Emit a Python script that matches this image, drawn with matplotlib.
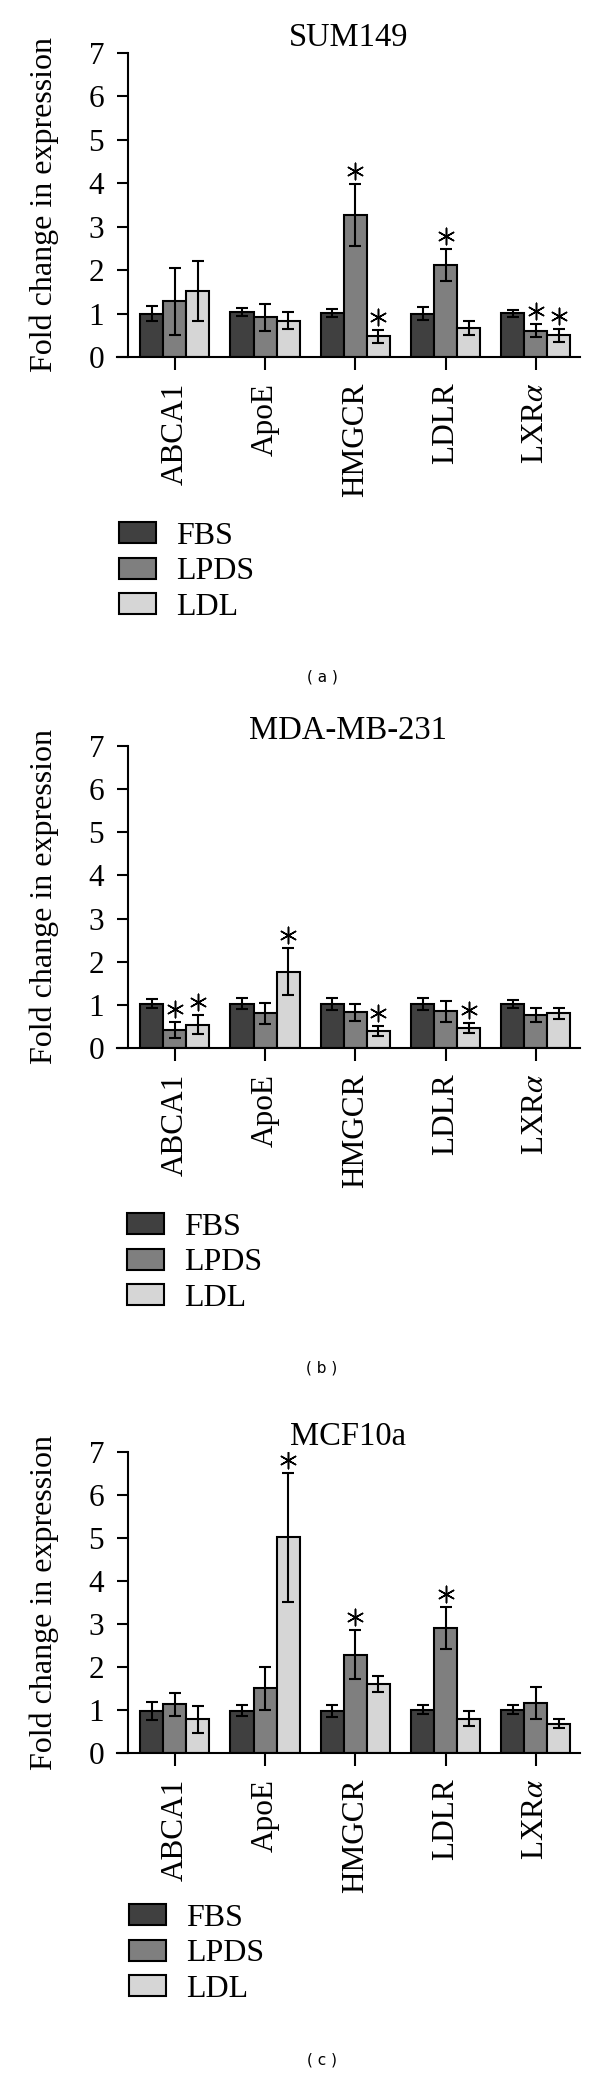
import matplotlib
matplotlib.use('Agg')
import matplotlib.pyplot as plt
import numpy as np

plt.rcParams['font.family'] = ['Liberation Serif', 'DejaVu Serif']
plt.rcParams['mathtext.fontset'] = 'stix'

genes = ['ABCA1', 'ApoE', 'HMGCR', 'LDLR', r'LXR$\alpha$']
conditions = ['FBS', 'LPDS', 'LDL']
bar_colors = ['#404040', '#7f7f7f', '#d6d6d6']

# rows: FBS, LPDS, LDL ; columns: genes
sum149_mean = [[1.00, 1.03, 1.01, 1.00, 1.01],
               [1.28, 0.91, 3.27, 2.11, 0.61],
               [1.51, 0.84, 0.48, 0.67, 0.50]]
sum149_err = [[0.18, 0.09, 0.10, 0.14, 0.08],
              [0.77, 0.30, 0.71, 0.37, 0.14],
              [0.69, 0.20, 0.15, 0.17, 0.15]]
sum149_star = [(1, 2), (2, 2), (1, 3), (1, 4), (2, 4)]

mda_mean = [[1.03, 1.03, 1.03, 1.02, 1.02],
            [0.42, 0.80, 0.83, 0.85, 0.76],
            [0.54, 1.77, 0.40, 0.46, 0.80]]
mda_err = [[0.10, 0.12, 0.14, 0.13, 0.09],
           [0.18, 0.25, 0.20, 0.24, 0.16],
           [0.22, 0.55, 0.12, 0.12, 0.13]]
mda_star = [(1, 0), (2, 0), (2, 1), (2, 2), (2, 3)]

mcf_mean = [[0.98, 0.98, 0.98, 1.01, 1.01],
            [1.13, 1.51, 2.29, 2.91, 1.16],
            [0.78, 5.02, 1.60, 0.80, 0.68]]
mcf_err = [[0.21, 0.13, 0.14, 0.10, 0.10],
           [0.26, 0.50, 0.57, 0.49, 0.37],
           [0.32, 1.50, 0.19, 0.18, 0.11]]
mcf_star = [(2, 1), (1, 2), (1, 3)]

W, H = 600, 2073
fig = plt.figure(figsize=(W / 100, H / 100), dpi=100)


def draw_panel(top_px, bottom_px, title, mean, err, stars, leg_x, leg_top, label, label_y):
    ax = fig.add_axes([117 / W, 1 - bottom_px / H, 463 / W, (bottom_px - top_px) / H])
    x = np.arange(len(genes))
    w = 0.255
    handles = []
    for j in range(3):
        xs = x + (j - 1) * w
        b = ax.bar(xs, mean[j], w, color=bar_colors[j], edgecolor='black', linewidth=1.5)
        handles.append(b)
        ax.errorbar(xs, mean[j], yerr=err[j], fmt='none', ecolor='black',
                    elinewidth=1.5, capsize=4.5, capthick=1.5)
    # significance stars above the error bars
    for j, i in stars:
        ax.scatter(i + (j - 1) * w, mean[j][i] + err[j][i] + 0.3, marker=(6, 2, 0),
                   s=140, c='black', linewidths=1.1, zorder=5)
    ax.set_xlim(-0.64, 4.49)
    ax.set_ylim(0, 7)
    ax.set_yticks(range(8))
    ax.set_xticks(x)
    ax.set_xticklabels(genes, rotation=90)
    ax.spines['top'].set_visible(False)
    ax.spines['right'].set_visible(False)
    ax.spines['left'].set_position(('data', -0.52))
    ax.spines['left'].set_linewidth(1.5)
    ax.spines['bottom'].set_linewidth(1.5)
    ax.tick_params(axis='y', labelsize=22.5, length=8, width=1.5, pad=9)
    ax.tick_params(axis='x', labelsize=22.5, length=9.5, width=1.5, pad=9)
    ax.set_title(title, fontsize=23.5, pad=4)
    ax.set_ylabel('Fold change in expression', fontsize=23)
    ax.yaxis.set_label_coords(-0.125, 0.5)
    ax.legend(handles=handles, labels=conditions, loc='upper left',
              bbox_to_anchor=(leg_x / W, 1 - leg_top / H), bbox_transform=fig.transFigure,
              frameon=False, fontsize=23, handlelength=1.15, handleheight=0.65,
              handletextpad=0.65, labelspacing=0.2, borderpad=0, borderaxespad=0)
    fig.text(322 / W, 1 - label_y / H, label, ha='center', va='center',
             fontsize=11, family='DejaVu Sans')
    return ax


draw_panel(53, 357, 'SUM149', sum149_mean, sum149_err, sum149_star, 119, 522, '( a )', 677)
draw_panel(746, 1048, 'MDA-MB-231', mda_mean, mda_err, mda_star, 127, 1213, '( b )', 1368)
draw_panel(1452, 1753, 'MCF10a', mcf_mean, mcf_err, mcf_star, 129, 1904, '( c )', 2060)

fig.savefig('out.png', dpi=100)
